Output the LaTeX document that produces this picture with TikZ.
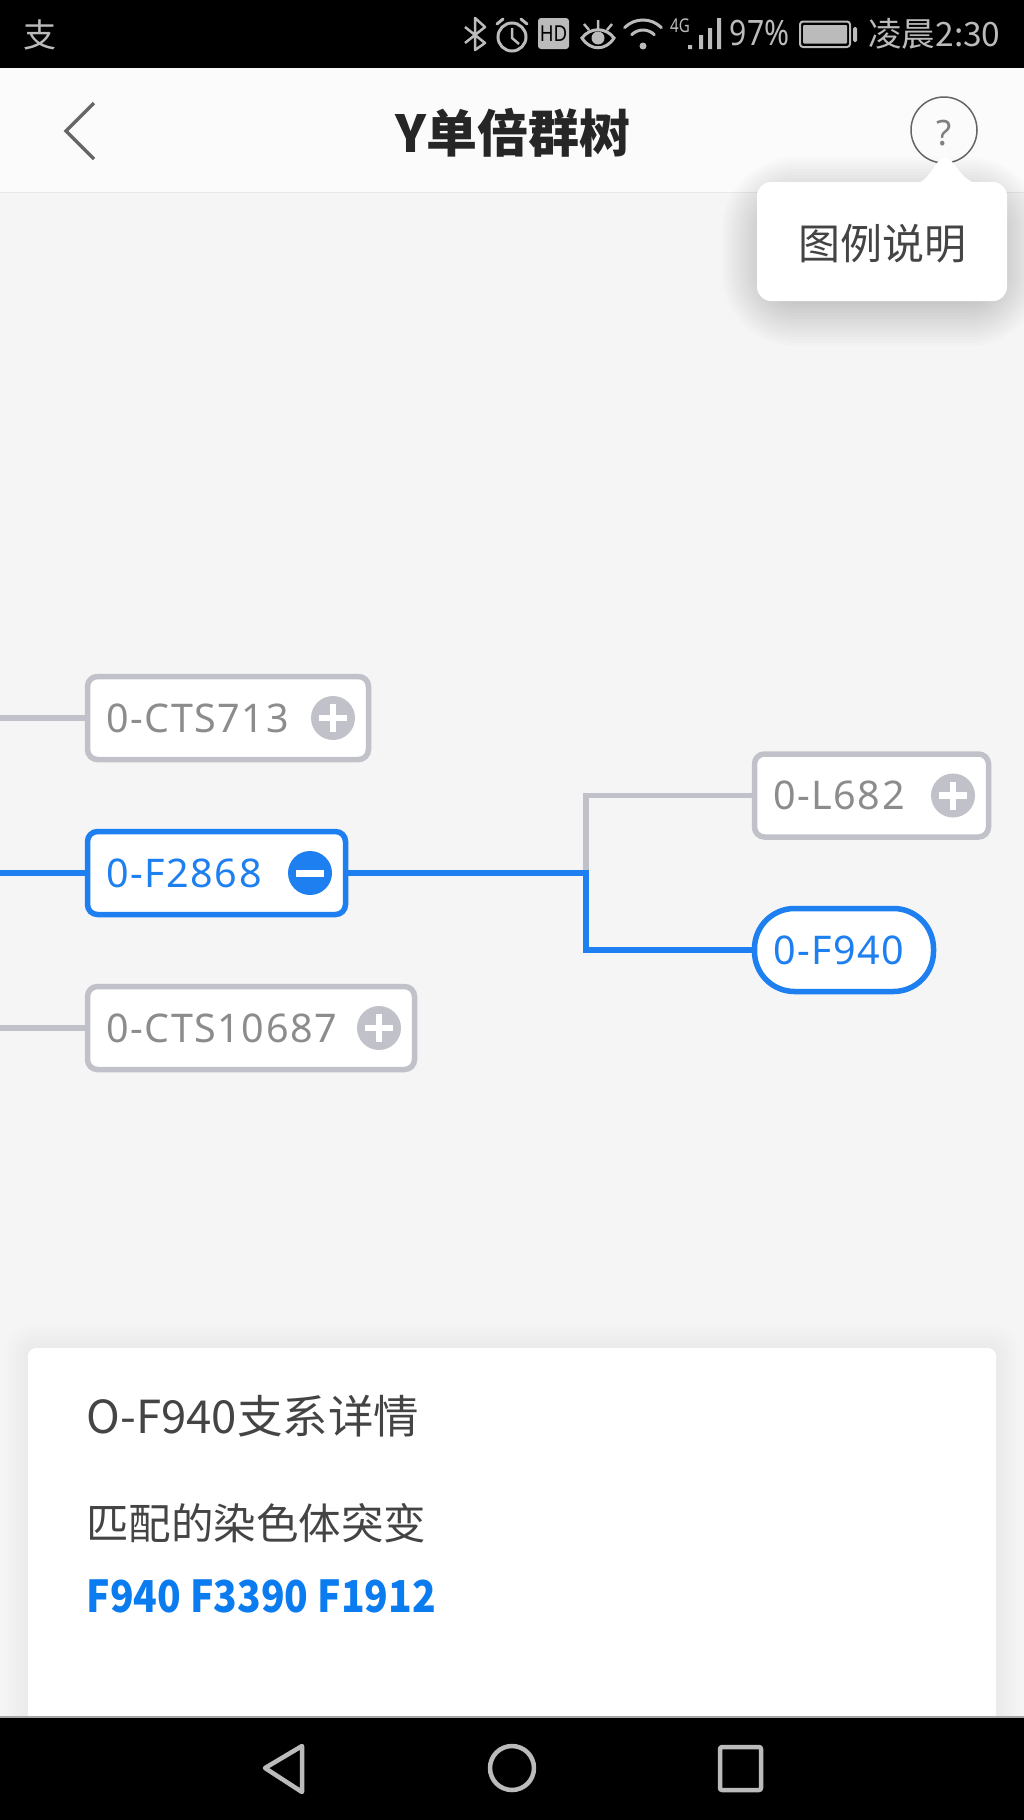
\documentclass[tikz,border=0pt]{standalone}
\usepackage{fontspec}
\setmainfont{Noto Sans CJK SC}
\newfontfamily\cjkfont{Noto Sans CJK SC}
\newfontfamily\latfont{Noto Sans}
\newfontfamily\treefont[LetterSpace=4]{Noto Sans}
\definecolor{pagebg}{HTML}{F5F5F6}
\definecolor{barbg}{HTML}{FBFBFB}
\definecolor{treegray}{HTML}{C1C1C9}
\definecolor{treeblue}{HTML}{1E80F0}
\definecolor{labelgray}{HTML}{8C8C8C}
\definecolor{statusgray}{HTML}{BBBBBB}
\definecolor{inkdark}{HTML}{444444}
\definecolor{titleink}{HTML}{262626}
\definecolor{linkblue}{HTML}{0A7CF0}
\newcommand{\fsz}[1]{\fontsize{#1}{#1}\selectfont}
\tikzset{
  treebox/.style={draw=treegray,fill=white,line width=5.5pt,rounded corners=10pt,minimum height=83pt,
    inner xsep=18.5pt,inner ysep=0pt,align=left,text=labelgray,font=\treefont\fsz{39.5}},
  activebox/.style={treebox,draw=treeblue,text=treeblue},
  pillbox/.style={activebox,rounded corners=40pt},
  treeline/.style={line width=5.5pt,draw=treegray},
  activeline/.style={line width=5.5pt,draw=treeblue},
  toggle/.style={circle,minimum size=44pt,inner sep=0pt,draw=none},
  statusline/.style={draw=statusgray,line width=3pt},
  navline/.style={draw=statusgray,line width=4.5pt,line join=round},
  statustext/.style={inner sep=0pt,text=statusgray},
  cardtext/.style={inner sep=0pt,anchor=west,text=inkdark},
}
\begin{document}
\begin{tikzpicture}[x=1pt,y=-1pt]
\useasboundingbox (0,0) rectangle (1024,1820);
\fill[pagebg] (0,0) rectangle (1024,1820);
% toolbar
\fill[barbg] (0,68) rectangle (1024,192);
\fill[black!9] (0,191.5) rectangle (1024,193);
% status bar
\fill[black] (0,0) rectangle (1024,68);
\node[statustext,font=\cjkfont\fsz{33}] (alipay) at (40,35) {支};
\draw[statusline,line width=2.5pt,line join=round] (465,27)--(485,43)--(475,50)--(475,18)--(485,27)--(465,43);
\draw[statusline] (512,37) circle (14);
\draw[statusline,line width=2.5pt] (512,28)--(512,38)--(519,44);
\draw[statusline,line cap=round] (497,24)--(503,19) (527,24)--(521,19);
\node[fill=statusgray,rounded corners=3pt,minimum width=31pt,minimum height=31pt,inner sep=0pt,text=black,font=\latfont\bfseries\fsz{22}] (hd) at (553.5,33.5) {\scalebox{.85}[1]{HD}};
\draw[statusline] (582,38) .. controls (590,27) and (606,27) .. (614,38) .. controls (606,51) and (590,51) .. (582,38) -- cycle;
\fill[statusgray] (598,38) circle (6.5);
\draw[statusline,line width=2.5pt] (598,20)--(598,29) (584,24)--(589,30) (612,24)--(607,30);
\draw[statusline,line cap=round] (624.6,27.6) arc[start angle=225,end angle=315,radius=26];
\draw[statusline,line cap=round] (631.7,34.7) arc[start angle=225,end angle=315,radius=16];
\fill[statusgray] (643,46) circle (3.5);
\node[statustext,font=\latfont\bfseries\fsz{19},xscale=.8] (fourg) at (680,26) {4G};
\fill[statusgray] (688,45) rectangle (692,49) (699,35) rectangle (703,49) (708,28) rectangle (712,49) (717,18) rectangle (721,49);
\node[statustext,font=\latfont\fsz{35},xscale=.86] (batt) at (759.5,33) {97\%};
\draw[statusgray,line width=2pt,rounded corners=3pt] (800,21.5) rectangle (850,47);
\fill[statusgray,rounded corners=1pt] (803,25) rectangle (847,43.5);
\fill[statusgray,rounded corners=1.5pt] (853,27) rectangle (857,42);
\node[statustext,font=\cjkfont\fsz{33.5}] (clock) at (934.5,34) {凌晨2:30};
% header
\draw[draw=black!60,line width=3.5pt] (94,103)--(66,131)--(94,159);
\node[inner sep=0pt,text=titleink,font=\cjkfont\bfseries\fsz{51}] (title) at (512.5,133) {Y单倍群树};
\draw[draw=black!60,line width=1.5pt] (944,130) circle (33);
\node[inner sep=0pt,text=black!50,font=\latfont\fsz{35}] (help) at (944,133) {?};
% popup shadow
\foreach \i in {1,...,20}{
  \pgfmathsetmacro\rr{14+3*\i}
  \fill[black,opacity=0.012,rounded corners=\rr pt] (782-3*\i,217-3*\i) rectangle (982+3*\i,286+3*\i);
}
% popup
\fill[white,rounded corners=14pt] (757,182) rectangle (1007,301);
\fill[white] (918,183) .. controls (930,180) and (936,158) .. (945,157) .. controls (954,158) and (960,180) .. (976,183) -- cycle;
\node[inner sep=0pt,text=inkdark,font=\cjkfont\fsz{42}] (legend) at (882,244) {图例说明};
% tree
\coordinate (stubA) at (0,718);
\coordinate (stubB) at (0,873);
\coordinate (stubC) at (0,1028);
\coordinate (elbow) at (586,873);
\node[treebox,minimum width=281pt,text width=244pt] (cts) at (228,718) {0-CTS713};
\node[activebox,minimum width=258pt,text width=221pt] (f2868) at (216.5,873) {0-F2868};
\node[treebox,minimum width=327pt,text width=290pt] (cts2) at (251,1028) {0-CTS10687};
\node[treebox,minimum width=234pt,text width=197pt] (l682) at (871.5,795.5) {0-L682};
\node[pillbox,minimum width=179pt,text width=142pt] (f940) at (844,950) {0-F940};
\draw[treeline] (stubA) -- (cts.west);
\draw[treeline] (stubC) -- (cts2.west);
\draw[treeline] (elbow) |- (l682.west);
\draw[activeline] (stubB) -- (f2868.west);
\draw[activeline] (f2868.east) -- (elbow) |- (f940.west);
% toggles
\node[toggle,fill=treegray] (pa) at (333,718) {};
\node[toggle,fill=treegray] (pb) at (379,1028) {};
\node[toggle,fill=treegray] (pc) at (953,795.5) {};
\node[toggle,fill=treeblue] (pd) at (310,873) {};
\foreach \p in {pa,pb,pc}{
  \draw[white,line width=6.5pt] ([xshift=-14pt]\p.center) -- ([xshift=14pt]\p.center);
  \draw[white,line width=6.5pt] ([yshift=-14pt]\p.center) -- ([yshift=14pt]\p.center);
}
\draw[white,line width=7pt] ([xshift=-14pt]pd.center) -- ([xshift=14pt]pd.center);
% detail card
\foreach \i in {1,...,10}{
  \pgfmathsetmacro\rr{8+2.5*\i}
  \fill[black,opacity=0.004,rounded corners=\rr pt] (28-2.5*\i,1348-2.5*\i) rectangle (996+2.5*\i,1740);
}
\fill[white,rounded corners=8pt] (28,1348) rectangle (996,1740);
\node[cardtext,font=\cjkfont\fsz{45.5}] (headline) at (86.5,1416) {O-F940支系详情};
\node[cardtext,font=\cjkfont\fsz{42.5}] (matched) at (86,1523) {匹配的染色体突变};
\node[cardtext,text=linkblue,font=\cjkfont\bfseries\fsz{44},xscale=.885] (snps) at (86.5,1596) {F940 F3390 F1912};
% nav bar
\fill[black] (0,1717) rectangle (1024,1820);
\fill[black!35] (0,1716) rectangle (1024,1717.5);
\draw[navline] (265,1768)--(302,1746)--(302,1792)--cycle;
\draw[navline] (512,1768) circle (22);
\draw[navline,rounded corners=2pt] (720,1747) rectangle (761,1790);
\end{tikzpicture}
\end{document}
